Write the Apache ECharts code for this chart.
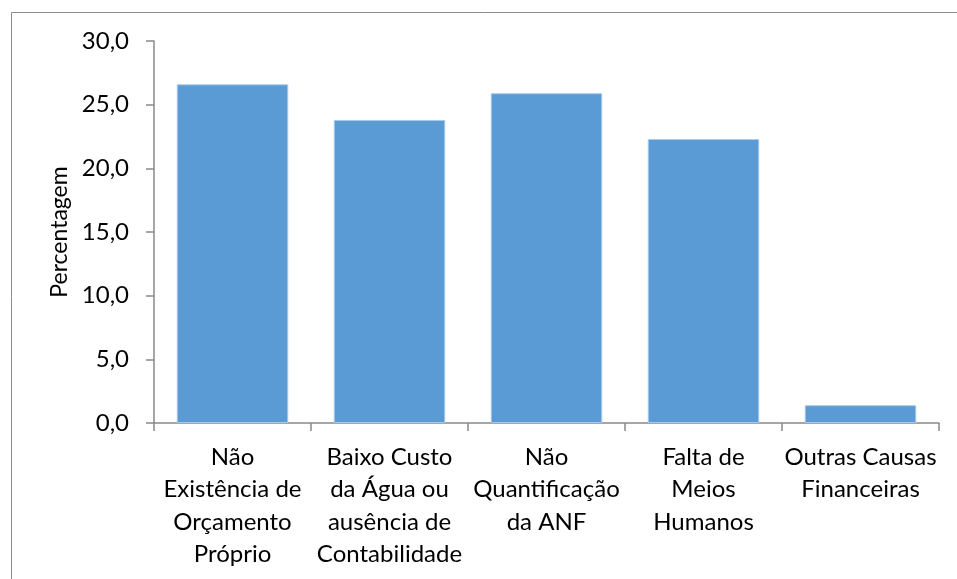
<!DOCTYPE html>
<html>
<head>
<meta charset="utf-8">
<script src="https://cdn.jsdelivr.net/npm/echarts@6/dist/echarts.min.js"></script>
<style>
  html, body { margin: 0; padding: 0; background: #fff; }
  #chart { width: 957px; height: 579px; }
</style>
</head>
<body>
<div id="chart"></div>
<script>
// Causas apontadas (percentagem de respostas)
const categories = [
  'Não\nExistência de\nOrçamento\nPróprio',
  'Baixo Custo\nda Água ou\nausência de\nContabilidade',
  'Não\nQuantificação\nda ANF',
  'Falta de\nMeios\nHumanos',
  'Outras Causas\nFinanceiras'
];
const percentagem = [26.6, 23.8, 25.9, 22.3, 1.4];
const yTicks = { min: 0, max: 30, interval: 5 };

const FONT = 'Lato, "Open Sans", sans-serif';
const chart = echarts.init(document.getElementById('chart'), null, { renderer: 'canvas' });

chart.setOption({
  animation: false,
  backgroundColor: '#ffffff',
  graphic: [{
    type: 'rect',
    left: 9, top: 10,
    shape: { width: 1000, height: 620 },
    style: { fill: 'none', stroke: '#8c8c8c', lineWidth: 1 },
    silent: true
  }],
  grid: { left: 154, right: 18, top: 41, bottom: 156, containLabel: false },
  xAxis: {
    type: 'category',
    data: categories,
    axisLine: { lineStyle: { color: '#898989', width: 1.5 } },
    axisTick: { show: true, length: 8, lineStyle: { color: '#898989', width: 1.5 } },
    axisLabel: {
      interval: 0, margin: 18, color: '#000',
      fontFamily: FONT, fontSize: 24, lineHeight: 32.5
    }
  },
  yAxis: {
    type: 'value',
    min: yTicks.min, max: yTicks.max, interval: yTicks.interval,
    name: 'Percentagem',
    nameLocation: 'middle',
    nameGap: 79,
    nameTextStyle: { color: '#000', fontFamily: FONT, fontSize: 23 },
    axisLine: { show: true, lineStyle: { color: '#898989', width: 1.5 } },
    axisTick: { show: true, length: 8, lineStyle: { color: '#898989', width: 1.5 } },
    splitLine: { show: false },
    axisLabel: {
      margin: 25, color: '#000', fontFamily: FONT, fontSize: 24,
      formatter: v => v.toFixed(1).replace('.', ',')
    }
  },
  series: [{
    type: 'bar',
    data: percentagem,
    barCategoryGap: '29%',
    itemStyle: { color: '#5b9bd5', borderColor: '#a9c9ea', borderWidth: 1 }
  }]
});
</script>
</body>
</html>
